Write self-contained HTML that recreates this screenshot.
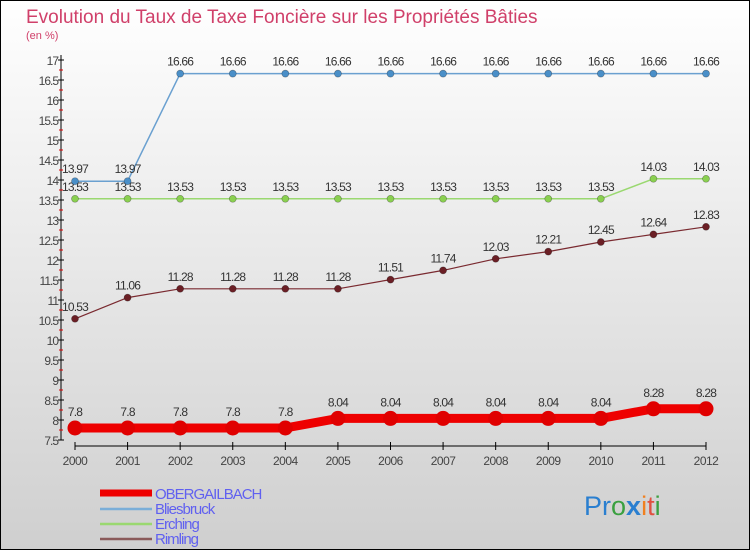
<!DOCTYPE html>
<html><head><meta charset="utf-8"><style>
body{margin:0}
svg{display:block;font-family:"Liberation Sans",sans-serif}
</style></head><body>
<svg id="c" width="750" height="550" viewBox="0 0 750 550">
<defs><linearGradient id="bg" x1="0" y1="0" x2="0" y2="1"><stop offset="0" stop-color="#ffffff"/><stop offset="1" stop-color="#cfcfcf"/></linearGradient></defs>
<rect x="0.5" y="0.5" width="749" height="549" fill="url(#bg)" stroke="#000"/>
<text x="26" y="23" font-size="19" fill="#d0406a">Evolution du Taux de Taxe Foncière sur les Propriétés Bâties</text>
<text x="26" y="39" font-size="11" fill="#d0406a">(en %)</text>
<g id="axes"></g>
<g id="series"></g>
<g id="legend"></g>
<g font-size="27">
<text x="584" y="515"><tspan fill="#2a7fd0">Pr</tspan><tspan fill="#3aa040">o</tspan><tspan fill="#2a7fd0" font-weight="bold">x</tspan><tspan fill="#f08020">i</tspan><tspan fill="#e05040">t</tspan><tspan fill="#3aa040">i</tspan></text>
</g>
</svg>
<script>
const years=[2000,2001,2002,2003,2004,2005,2006,2007,2008,2009,2010,2011,2012];
const yTicks=[7.5,8,8.5,9,9.5,10,10.5,11,11.5,12,12.5,13,13.5,14,14.5,15,15.5,16,16.5,17];
const seriesNames=["OBERGAILBACH","Bliesbruck","Erching","Rimling"];
const obergailbach=[7.8,7.8,7.8,7.8,7.8,8.04,8.04,8.04,8.04,8.04,8.04,8.28,8.28];
const bliesbruck=[13.97,13.97,16.66,16.66,16.66,16.66,16.66,16.66,16.66,16.66,16.66,16.66,16.66];
const erching=[13.53,13.53,13.53,13.53,13.53,13.53,13.53,13.53,13.53,13.53,13.53,14.03,14.03];
const rimling=[10.53,11.06,11.28,11.28,11.28,11.28,11.51,11.74,12.03,12.21,12.45,12.64,12.83];
const NS="http://www.w3.org/2000/svg";
const X=i=>75+i*(706-75)/(years.length-1);
const Y=v=>440-(v-7.5)*40;
function mk(tag,attrs,parent){const e=document.createElementNS(NS,tag);for(const k in attrs)e.setAttribute(k,attrs[k]);parent.appendChild(e);return e;}
const ax=document.getElementById('axes');
let l=mk('line',{x1:61,y1:55,x2:61,y2:440,stroke:'#000'},ax);


l=mk('line',{x1:75,y1:446,x2:706,y2:446,stroke:'#000'},ax);


yTicks.forEach((v,i)=>{
  mk('line',{x1:58,y1:Y(v),x2:64,y2:Y(v),stroke:'#000'},ax);
  if(i<yTicks.length-1) mk('line',{x1:59,y1:Y(v)-10,x2:63,y2:Y(v)-10,stroke:'#e00000'},ax);
  const t=mk('text',{x:58,y:Y(v)+5,'font-size':12,'text-anchor':'end',fill:'#444','letter-spacing':'-1'},ax);
  t.textContent=String(v);
  
  
});
years.forEach((y,i)=>{
  mk('line',{x1:X(i),y1:442,x2:X(i),y2:450,stroke:'#000'},ax);
  const t=mk('text',{x:X(i),y:465,'font-size':12,'text-anchor':'middle',fill:'#444','letter-spacing':'-0.5'},ax);
  t.textContent=String(y);
  
  
});
const sg=document.getElementById('series');
const data=[rimling,erching,bliesbruck,obergailbach];
const names=["rimling","erching","bliesbruck","obergailbach"];
const cols=["#6b1f25","#8ad050","#4a8fc8","#e00000"];
const lineCols=["#7a2a30","#9ad870","#6aa0d0","#ee0000"];
const widths=[1.2,1.5,1.5,9];
const rad=[3.5,3.5,3.5,7.5];
data.forEach((d,s)=>{
  const g=mk('g',{},sg);
  
  
  const p=mk('polyline',{points:d.map((v,i)=>X(i)+','+Y(v)).join(' '),fill:'none',stroke:lineCols[s],'stroke-width':widths[s],'stroke-linejoin':'round'},g);
  
  
  d.forEach((v,i)=>{
    const c=mk('circle',{cx:X(i),cy:Y(v),r:rad[s],fill:cols[s],stroke:s==3?'none':'#00000055','stroke-width':0.7},g);
    
    
    const t=mk('text',{x:X(i),y:Y(v)-(s==3?12:8),'font-size':12,'text-anchor':'middle',fill:'#333','letter-spacing':'-0.8'},g);
    t.textContent=String(v);
    
    
  });
});
const lg=document.getElementById('legend');
const legCols=["#ee0000","#7aaed8","#9ad870","#8a5a5a"];
const legW=[7,2.5,2.5,2.5];
seriesNames.forEach((n,i)=>{
  const y=493+i*15;
  const g=mk('g',{},lg);
  
  
  mk('line',{x1:100,y1:y+(i==0?0:1),x2:152,y2:y+(i==0?0:1),stroke:legCols[i],'stroke-width':legW[i]},g);
  const t=mk('text',{x:155,y:y+6,'font-size':15,fill:'#6060f0','letter-spacing':'-1'},g);
  t.textContent=n;
});
</script>
</body></html>
